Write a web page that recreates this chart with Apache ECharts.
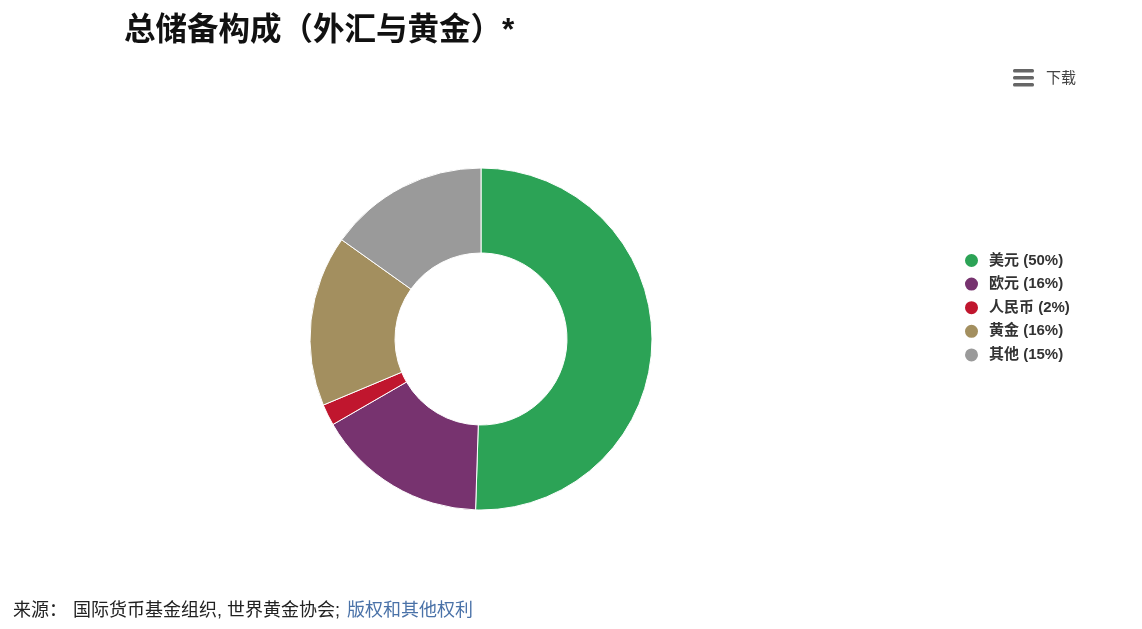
<!DOCTYPE html>
<html>
<head>
<meta charset="utf-8">
<script src="https://cdn.jsdelivr.net/npm/echarts@6/dist/echarts.min.js"></script>
<style>
html,body{margin:0;padding:0;background:#fff;}
#c{width:1142px;height:629px;}
</style>
</head>
<body>
<div id="c"></div>
<script>
const categories = ['美元', '欧元', '人民币', '黄金', '其他'];
const values = [50, 16, 2, 16, 15];
const colors = ['#2ca356', '#77336f', '#c0162e', '#a38f5f', '#9a9a9a'];

const font = '"Liberation Sans", "Noto Sans CJK SC", sans-serif';
const chart = echarts.init(document.getElementById('c'));
chart.setOption({
  backgroundColor: '#fff',
  animation: false,
  title: {
    text: '总储备构成（外汇与黄金）*',
    left: 119, top: 11,
    textStyle: { fontSize: 31.5, fontWeight: 'bold', color: '#111', fontFamily: font }
  },
  legend: {
    orient: 'vertical',
    left: 958, top: 247,
    itemWidth: 15, itemHeight: 15, itemGap: 6.6,
    icon: 'circle',
    data: categories,
    formatter: function (name) {
      const i = categories.indexOf(name);
      return name + ' (' + values[i] + '%)';
    },
    textStyle: { fontSize: 15, fontWeight: 'bold', color: '#333', fontFamily: font, padding: [0, 0, 0, 5] }
  },
  series: [{
    type: 'pie',
    center: [481, 339],
    radius: [86, 171],
    startAngle: 90,
    clockwise: true,
    label: { show: false },
    labelLine: { show: false },
    itemStyle: { borderColor: '#fff', borderWidth: 1 },
    emphasis: { disabled: true },
    data: categories.map((n, i) => ({ name: n, value: values[i], itemStyle: { color: colors[i] } }))
  }],
  graphic: [
    { type: 'rect', shape: { x: 1013, y: 69, width: 21, height: 3.5, r: 1.5 }, style: { fill: '#666' } },
    { type: 'rect', shape: { x: 1013, y: 76, width: 21, height: 3.5, r: 1.5 }, style: { fill: '#666' } },
    { type: 'rect', shape: { x: 1013, y: 83, width: 21, height: 3.5, r: 1.5 }, style: { fill: '#666' } },
    { type: 'text', left: 1046, top: 71, style: { text: '下载', fontSize: 15, fill: '#444', fontFamily: font } },
    { type: 'text', left: 13, top: 602, style: { text: '来源：', fontSize: 18, fill: '#222', fontFamily: font } },
    { type: 'text', left: 73, top: 602, style: { text: '国际货币基金组织, 世界黄金协会;', fontSize: 18, fill: '#222', fontFamily: font } },
    { type: 'text', left: 347, top: 602, style: { text: '版权和其他权利', fontSize: 18, fill: '#4a72a8', fontFamily: font } }
  ]
});
</script>
</body>
</html>
